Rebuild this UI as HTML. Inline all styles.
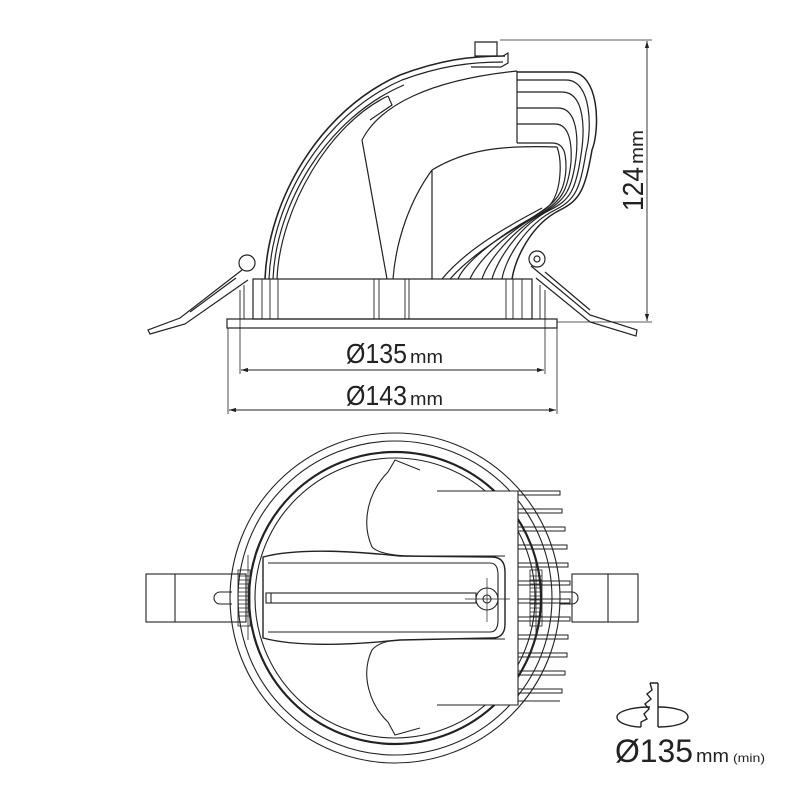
<!DOCTYPE html>
<html><head><meta charset="utf-8"><style>
html,body{margin:0;padding:0;background:#fff;}
svg{display:block;}
text{font-family:"Liberation Sans",sans-serif;fill:#222;}
</style></head><body>
<svg width="800" height="800" viewBox="0 0 800 800" xmlns="http://www.w3.org/2000/svg">
<defs>
<marker id="a" viewBox="0 0 10 10" refX="10" refY="5" markerWidth="8" markerHeight="8" orient="auto-start-reverse"><path d="M0,2 L10,5 L0,8 z" fill="#222"/></marker>
</defs>
<g fill="none" stroke="#222" stroke-width="1.2">
<line x1="500" y1="40" x2="652" y2="40" stroke-width="0.8"/>
<line x1="557" y1="322" x2="652" y2="322" stroke-width="0.8"/>
<line x1="647" y1="41" x2="647" y2="321" stroke-width="0.9" marker-start="url(#a)" marker-end="url(#a)"/>
<rect x="227" y="319" width="330" height="9"/>
<rect x="253" y="279" width="279" height="40"/>
<g stroke-width="0.9">
<line x1="262" y1="279" x2="262" y2="319"/><line x1="270" y1="279" x2="270" y2="319"/>
<line x1="278" y1="279" x2="278" y2="319"/><line x1="374" y1="279" x2="374" y2="319"/>
<line x1="379" y1="279" x2="379" y2="319"/><line x1="405" y1="279" x2="405" y2="319"/>
<line x1="409" y1="279" x2="409" y2="319"/><line x1="506" y1="279" x2="506" y2="319"/>
<line x1="513" y1="279" x2="513" y2="319"/><line x1="522" y1="279" x2="522" y2="319"/>
<line x1="244" y1="285" x2="244" y2="319"/><line x1="240" y1="290" x2="240" y2="319"/>
<line x1="540" y1="285" x2="540" y2="319"/><line x1="545" y1="290" x2="545" y2="319"/>
</g>
<line x1="240" y1="319" x2="240" y2="374" stroke-width="0.8"/>
<line x1="545" y1="319" x2="545" y2="374" stroke-width="0.8"/>
<line x1="241" y1="370" x2="544" y2="370" stroke-width="0.9" marker-start="url(#a)" marker-end="url(#a)"/>
<line x1="228" y1="328" x2="228" y2="414" stroke-width="0.8"/>
<line x1="557" y1="328" x2="557" y2="414" stroke-width="0.8"/>
<line x1="229" y1="410" x2="556" y2="410" stroke-width="0.9" marker-start="url(#a)" marker-end="url(#a)"/>
<path d="M265,279 C268,200 320,110 400,75 C440,60 470,56 505,56" stroke-width="1.6"/>
<path d="M269,279 C272,202 323,114 402,80 C440,66 470,62 503,62"/>
<path d="M273,279 C276,205 326,118 404,85"/>
<path d="M277,279 C280,208 330,123 388,96"/>
<path d="M475,42 h22 v14 h-22 z"/>
<path d="M503,56 l5,-3 l0,10 l-7,4 h-30"/>
<path d="M362,140 C380,105 430,80 517,71"/>
<path d="M388,96 L392,105 L370,120"/>
<line x1="517" y1="71" x2="517" y2="143"/>
<path d="M362,140 L387,279"/>
<path d="M432,170 C465,150 500,145 557,147"/>
<line x1="432" y1="170" x2="432" y2="279"/>
<path d="M432,170 C410,200 396,240 393,279"/>
<path d="M517,72 H570 C600,72 600,130 592,150 C585,190 580,200 560,210 C530,225 515,260 512,279" stroke-width="1.5"/>
<path d="M517,80 H566 C592,80 592,130 586,152 C580,190 575,200 555,210 C525,225 505,260 502,279"/>
<path d="M517,92 H562 C585,92 585,130 581,155 C576,190 570,200 550,210 C520,225 497,260 492,279"/>
<path d="M517,108 H558 C578,108 578,140 576,158 C572,190 565,200 545,212 C515,228 488,260 482,279"/>
<path d="M517,124 H555 C570,124 572,145 571,162 C568,192 560,202 540,214 C510,230 478,260 470,279"/>
<path d="M517,143 H552 C565,143 566,155 566,168 C565,192 556,203 535,216 C505,232 466,260 458,279"/>
<path d="M557,147 C562,160 562,190 550,205 C530,222 480,245 450,279"/>
<path d="M542,208 C520,220 470,245 442,279"/>
<circle cx="247" cy="263" r="8"/>
<path d="M242,270 L180,318 L148,330 L150,334 L185,324 L248,280"/>
<path d="M236,278 L190,312"/>
<circle cx="537" cy="259" r="8"/><circle cx="537" cy="259" r="3"/>
<path d="M531,266 L590,315 L637,330 L636,336 L590,322 L536,278"/>
<path d="M545,272 L590,310"/>
</g>
<text x="346" y="363" font-size="28" textLength="61" lengthAdjust="spacingAndGlyphs">Ø135</text><text x="410" y="363" font-size="18" textLength="33" lengthAdjust="spacingAndGlyphs">mm</text>
<text x="346" y="405" font-size="28" textLength="61" lengthAdjust="spacingAndGlyphs">Ø143</text><text x="410" y="405" font-size="18" textLength="33" lengthAdjust="spacingAndGlyphs">mm</text>
<g transform="translate(643,211) rotate(-90)"><text x="0" y="0" font-size="29" textLength="44" lengthAdjust="spacingAndGlyphs">124</text><text x="47" y="0" font-size="18" textLength="34" lengthAdjust="spacingAndGlyphs">mm</text></g>

<g fill="none" stroke="#222" stroke-width="1.1">
<circle cx="395" cy="598" r="165"/>
<circle cx="395" cy="598" r="157"/>
<circle cx="395" cy="598" r="146" stroke-width="2.2"/>
<circle cx="395" cy="598" r="140"/>
<rect x="146" y="574" width="100" height="48"/>
<line x1="175" y1="574" x2="175" y2="622"/>
<rect x="572" y="574" width="66" height="48"/>
<line x1="608" y1="574" x2="608" y2="622"/>
<path d="M232,592 h-12 a6,6 0 0 0 0,12 h12"/>
<path d="M560,592 h12 a6,6 0 0 1 0,12 h-12"/>
<g stroke-width="0.8">
<rect x="238" y="570" width="12" height="56"/>
<path d="M238,576h12M238,580h12M238,584h12M238,588h12M238,592h12M238,596h12M238,600h12M238,604h12M238,608h12M238,612h12M238,616h12"/>
<rect x="530" y="570" width="12" height="56"/>
<path d="M530,576h12M530,580h12M530,584h12M530,588h12M530,592h12M530,596h12M530,600h12M530,604h12M530,608h12M530,612h12M530,616h12"/>
<line x1="248" y1="555" x2="248" y2="640"/><line x1="536" y1="560" x2="536" y2="635"/>
</g>
<path d="M437,491 H518 V705 H437" fill="#fff"/>
<g stroke-width="1">
<path d="M518,491h42v4h-42M518,509h44v4h-44M518,527h47v4h-47M518,545h49v4h-49M518,563h50v4h-50M518,581h52v4h-52M518,599h52v4h-52M518,617h52v4h-52M518,635h50v4h-50M518,653h49v4h-49M518,671h47v4h-47M518,689h44v4h-44M518,701h42"/>
</g>
<path d="M388,472 C370,490 360,520 372,547 C380,555 400,556 415,556 L505,556" fill="#fff"/>
<path d="M388,472 L395,460 L420,470"/>
<path d="M388,722 C370,705 360,675 372,650 C380,640 400,639 415,639 L505,639" fill="#fff"/>
<path d="M388,722 L395,735 L420,728"/>
<path d="M263,557 C300,547 360,552 400,556 L492,557 Q505,557 505,572 V624 Q505,638 492,638 L400,640 C360,644 300,648 263,638 Z" fill="#fff" stroke-width="1.4"/>
<path d="M268,563 L490,563 Q498,563 498,575 V620 Q498,632 490,632 L268,632"/>
<rect x="266" y="593" width="210" height="10"/>
<line x1="271" y1="593" x2="271" y2="603"/>
<circle cx="487" cy="599" r="11"/><circle cx="487" cy="599" r="4"/>
<line x1="465" y1="599" x2="510" y2="599" stroke-width="0.7"/>
<line x1="487" y1="578" x2="487" y2="622" stroke-width="0.7"/>
</g>

<g fill="none" stroke="#222" stroke-width="1.4">
<path d="M650,707 C630,707 617,712 617,717 C617,723 630,727 641,727"/>
<path d="M658,707 C675,707 688,711 688,717 C688,723 675,727 658,727"/>
<line x1="658" y1="683" x2="658" y2="727"/>
<path d="M650,683 L658,683 M650,683 L652,690 L647,694 L651,699 L645,704 L649,709 L644,714 L647,719 L641,722 L641,727"/>
</g>
<text x="615" y="762" font-size="32" textLength="78" lengthAdjust="spacingAndGlyphs">Ø135</text>
<text x="696" y="762" font-size="18" textLength="33" lengthAdjust="spacingAndGlyphs">mm</text>
<text x="733" y="762" font-size="12" textLength="32" lengthAdjust="spacingAndGlyphs">(min)</text>
</svg>
</body></html>
